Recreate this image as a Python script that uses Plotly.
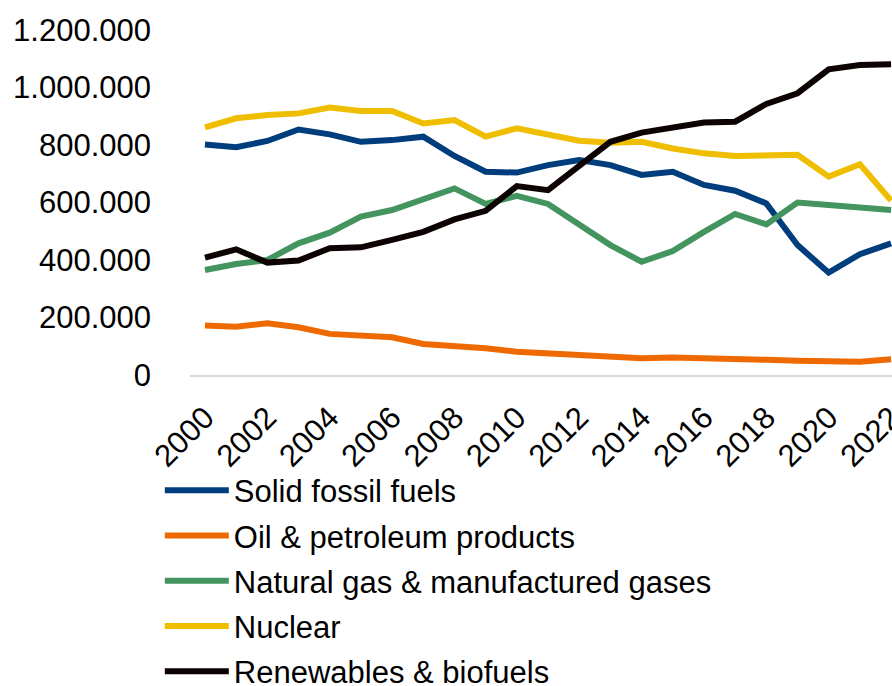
import plotly.graph_objects as go

years = list(range(2000, 2023))
solid_fossil = [802, 792, 814, 854, 837, 811, 817, 829, 762, 707, 704, 730, 748, 730, 696, 707, 661, 641, 597, 452, 356, 420, 458]
oil = [172, 168, 180, 166, 143, 139, 131, 108, 101, 93, 81, 75, 70, 62, 58, 61, 60, 56, 53, 50, 46, 46, 55]
natural_gas = [365, 386, 400, 458, 495, 551, 574, 611, 649, 595, 623, 595, 522, 452, 394, 431, 498, 560, 524, 600, 591, 585, 574]
nuclear = [861, 893, 904, 910, 930, 918, 918, 875, 887, 829, 858, 835, 815, 808, 811, 788, 771, 762, 764, 766, 690, 733, 607]
renewables = [408, 437, 391, 398, 441, 444, 470, 498, 541, 571, 657, 643, 727, 811, 843, 861, 878, 881, 943, 980, 1063, 1078, 1081]

series_names = ["Solid fossil fuels", "Oil & petroleum products", "Natural gas & manufactured gases", "Nuclear", "Renewables & biofuels"]
series_values = [solid_fossil, oil, natural_gas, nuclear, renewables]
colors = ["#003D7C", "#EE6A00", "#43945F", "#F0BE00", "#0D0202"]
tick_years = list(range(2000, 2023, 2))

FONT = "Liberation Sans"
FS = 31

fig = go.Figure()
for name, vals, col in zip(series_names, series_values, colors):
    fig.add_trace(go.Scatter(
        x=years, y=[v * 1000 for v in vals], name=name, mode="lines",
        line=dict(color=col, width=6), legendgroup=name,
    ))

fig.update_layout(
    width=892, height=686,
    margin=dict(l=190, r=0, t=30, b=311, autoexpand=False),
    paper_bgcolor="white", plot_bgcolor="white",
    separators=",.",
    font=dict(family=FONT, size=FS, color="#000000"),
    showlegend=True,
    legend=dict(
        x=-0.043, xanchor="left", y=-0.2565, yanchor="top",
        orientation="v", traceorder="grouped", tracegroupgap=2,
        itemwidth=64, font=dict(family=FONT, size=FS, color="#000000"),
        bgcolor="rgba(0,0,0,0)",
    ),
    xaxis=dict(
        range=[1999.52, 2022.03], tickmode="array", tickvals=tick_years,
        ticktext=[str(y) for y in tick_years], tickangle=-45,
        ticklabeloverflow="allow", automargin=False, ticklabelstandoff=10,
        showgrid=False, zeroline=False, showline=True, linecolor="#D9D9D9",
        linewidth=2, ticks="", tickfont=dict(family=FONT, size=FS),
    ),
    yaxis=dict(
        range=[0, 1200000], tickmode="linear", tick0=0, dtick=200000,
        tickformat=",d", showgrid=False, zeroline=False, showline=False,
        automargin=False,
        ticks="", ticklabelstandoff=38, tickfont=dict(family=FONT, size=FS),
    ),
)

fig.write_html(
    "out.html",
    config={"displayModeBar": False},
    post_script="document.body.style.margin='0';document.body.style.overflow='hidden';",
)
